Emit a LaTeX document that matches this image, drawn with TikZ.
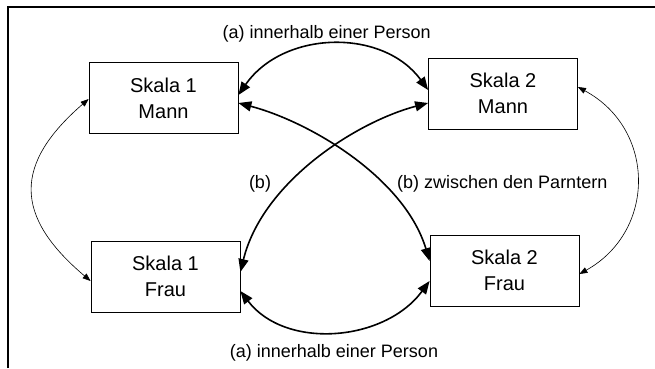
\documentclass[tikz,border=0pt]{standalone}
\usepackage{fontspec}
\setmainfont{Liberation Sans}
\usetikzlibrary{arrows.meta,calc}
\begin{document}
\begin{tikzpicture}[x=1pt,y=-1pt,
  box/.style={draw=black,line width=0.8pt,minimum width=149pt,minimum height=71pt,
    inner sep=0pt,align=center,font=\fontsize{20}{26}\selectfont},
  lbl/.style={inner sep=0pt,font=\fontsize{18}{22}\selectfont},
  bigarr/.style={line width=1.6pt,{Triangle[length=13pt,width=10pt]}-{Triangle[length=13pt,width=10pt]}},
  smallarr/.style={line width=0.6pt,{Triangle[length=8pt,width=6pt]}-{Triangle[length=8pt,width=6pt]}},
  frameline/.style={line width=2.5pt}]
\path[fill=white] (0,0) rectangle (655,368);
% frame (top and left)
\coordinate (f1) at (8,368);
\coordinate (f2) at (8,7);
\coordinate (f3) at (655,7);
\draw[frameline] (f1) -- (f2) -- (f3);
% boxes
\node[box] (A) at (163.5,98) {Skala 1\\Mann};
\node[box] (B) at (503,93.5) {Skala 2\\Mann};
\node[box] (C) at (165.5,276.5) {Skala 1\\Frau};
\node[box] (D) at (504.5,270.5) {Skala 2\\Frau};
% (a) within a person
\draw[bigarr] ($(A.east)+(0,-3)$) .. controls +(45,-65) and +(-45,-62) .. ($(B.west)+(0,-3.5)$);
\draw[bigarr] ($(C.east)+(0,14.5)$) .. controls +(45,59) and +(-45,61) .. ($(D.west)+(0,10.5)$);
% (b) between partners
\draw[bigarr] ($(A.east)+(0,5)$) .. controls +(72,19) and +(-25,-83) .. ($(D.west)+(0,-9.5)$);
\draw[bigarr] ($(B.west)+(0,9.5)$) .. controls +(-72,19) and +(22,-90) .. ($(C.east)+(0,-4.5)$);
% side arrows
\draw[smallarr] ($(A.west)+(0,1)$) .. controls +(-75,65) and +(-77,-65) .. ($(C.west)+(0,4.5)$);
\draw[smallarr] ($(B.east)+(0,-6.5)$) .. controls +(78,42) and +(77,-43) .. ($(D.east)+(0,3.5)$);
% labels
\node[lbl,anchor=base] (la) at (326.7,38) {(a) innerhalb einer Person};
\node[lbl,anchor=base] (lb) at (334,357) {(a) innerhalb einer Person};
\node[lbl,anchor=base] (lc) at (260,188) {(b)};
\node[lbl,anchor=base west] (ld) at (397,188) {(b) zwischen den Parntern};
\pgfresetboundingbox
\useasboundingbox (0,0) rectangle (655,368);
\end{tikzpicture}
\end{document}
